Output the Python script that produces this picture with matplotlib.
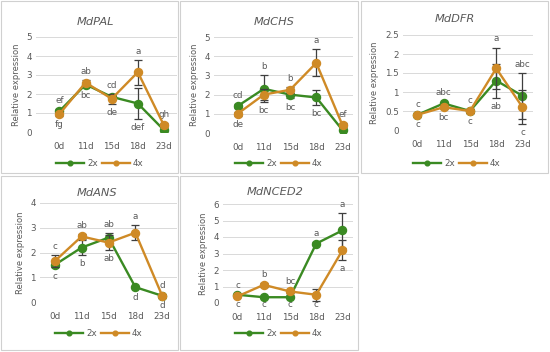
import matplotlib
matplotlib.use("Agg")
import matplotlib.pyplot as plt
from matplotlib.patches import Rectangle
from matplotlib.lines import Line2D
import numpy as np

days = ["0d", "11d", "15d", "18d", "23d"]

pal_2x = [1.1, 2.5, 1.85, 1.5, 0.1]
pal_2x_err = [0.1, 0.1, 0.1, 0.8, 0.05]
pal_4x = [0.95, 2.6, 1.75, 3.15, 0.35]
pal_4x_err = [0.1, 0.15, 0.25, 0.65, 0.1]
pal_top = ["ef", "ab", "cd", "a", "gh"]
pal_bot = ["fg", "bc", "de", "def", None]

chs_2x = [1.4, 2.3, 2.0, 1.85, 0.15]
chs_2x_err = [0.1, 0.7, 0.2, 0.4, 0.05]
chs_4x = [1.0, 2.0, 2.25, 3.65, 0.4]
chs_4x_err = [0.1, 0.3, 0.15, 0.7, 0.1]
chs_top = ["cd", "b", "b", "a", "ef"]
chs_bot = ["de", "bc", "bc", "bc", None]

dfr_2x = [0.4, 0.7, 0.5, 1.3, 0.9]
dfr_2x_err = [0.03, 0.05, 0.05, 0.45, 0.6]
dfr_4x = [0.4, 0.6, 0.5, 1.62, 0.6]
dfr_4x_err = [0.03, 0.05, 0.05, 0.55, 0.45]
dfr_top = ["c", "abc", "c", "a", "abc"]
dfr_bot = ["c", "bc", "c", "ab", "c"]

ans_2x = [1.5, 2.2, 2.6, 0.6, 0.25]
ans_2x_err = [0.1, 0.3, 0.2, 0.05, 0.05]
ans_4x = [1.65, 2.65, 2.4, 2.8, 0.25]
ans_4x_err = [0.25, 0.1, 0.3, 0.3, 0.05]
ans_top = ["c", "ab", "ab", "a", "d"]
ans_bot = ["c", "b", "ab", "d", "d"]

nced_2x = [0.5, 0.35, 0.35, 3.6, 4.4]
nced_2x_err = [0.05, 0.05, 0.05, 0.1, 1.05]
nced_4x = [0.4, 1.1, 0.7, 0.5, 3.2]
nced_4x_err = [0.05, 0.1, 0.1, 0.35, 0.6]
nced_top = ["c", "b", "bc", "a", "a"]
nced_bot = ["c", "c", "c", "c", "a"]

W, H = 550, 352
fig = plt.figure(figsize=(W / 100, H / 100), dpi=100)
fig.patch.set_facecolor("white")

GREEN = "#3a8a22"
ORANGE = "#cf8a26"
TXT = "#595959"
ERR = "#3f3f3f"

boxes = [(1, 1, 178, 173), (180, 1, 358, 173), (361, 1, 548, 173),
         (1, 176, 178, 350), (180, 176, 358, 350)]
for (x0, y0, x1, y1) in boxes:
    fig.add_artist(Rectangle((x0 / W, 1 - y1 / H), (x1 - x0) / W, (y1 - y0) / H,
                             transform=fig.transFigure, fill=False,
                             edgecolor="#d0d0d0", linewidth=0.8))

panels = [
    dict(title="MdPAL", d2=pal_2x, e2=pal_2x_err, d4=pal_4x, e4=pal_4x_err,
         top=pal_top, bot=pal_bot, ymax=5, step=1, floor=-1,
         ax=(36, 37, 177, 132), xl=(-0.9, 4.5), tx=95, ty=22, ly=163, lx=56),
    dict(title="MdCHS", d2=chs_2x, e2=chs_2x_err, d4=chs_4x, e4=chs_4x_err,
         top=chs_top, bot=chs_bot, ymax=5, step=1, floor=-1,
         ax=(214, 37, 353, 133), xl=(-0.9, 4.4), tx=274, ty=22, ly=163, lx=235),
    dict(title="MdDFR", d2=dfr_2x, e2=dfr_2x_err, d4=dfr_4x, e4=dfr_4x_err,
         top=dfr_top, bot=dfr_bot, ymax=2.5, step=0.5, floor=-1,
         ax=(403, 35, 533, 130), xl=(-0.55, 4.4), tx=455, ty=19, ly=163, lx=413),
    dict(title="MdANS", d2=ans_2x, e2=ans_2x_err, d4=ans_4x, e4=ans_4x_err,
         top=ans_top, bot=ans_bot, ymax=4, step=1, floor=-1,
         ax=(40, 203, 177, 302), xl=(-0.55, 4.55), tx=97, ty=193, ly=333, lx=55),
    dict(title="MdNCED2", d2=nced_2x, e2=nced_2x_err, d4=nced_4x, e4=nced_4x_err,
         top=nced_top, bot=nced_bot, ymax=6, step=1, floor=0.45,
         ax=(223, 204, 353, 303), xl=(-0.55, 4.4), tx=275, ty=192, ly=333, lx=235),
]

for p in panels:
    x0, yt, x1, yb = p["ax"]
    ax = fig.add_axes([x0 / W, 1 - yb / H, (x1 - x0) / W, (yb - yt) / H])
    ax.set_facecolor("none")
    xs = np.arange(len(days))
    for s in ax.spines.values():
        s.set_visible(False)
    ax.set_ylim(0, p["ymax"])
    ax.set_xlim(*p["xl"])
    ticks = np.arange(0, p["ymax"] + 1e-9, p["step"])
    ax.set_yticks(ticks)
    ax.set_yticklabels([("%g" % t) for t in ticks])
    ax.set_xticks(xs)
    ax.set_xticklabels(days)
    ax.tick_params(axis="both", length=0, labelsize=6.3, colors=TXT)
    ax.tick_params(axis="x", pad=7)
    ax.tick_params(axis="y", pad=3)
    ax.grid(axis="y", color="#d9d9d9", linewidth=0.7)
    ax.set_axisbelow(True)
    ax.set_ylabel("Relative expression", fontsize=6.0, color=TXT, labelpad=4)
    ax.errorbar(xs, p["d2"], yerr=p["e2"], color=GREEN, ecolor=ERR, elinewidth=0.9,
                capsize=2.8, capthick=0.9, marker="o", markersize=5.8, linewidth=1.7, zorder=3)
    ax.errorbar(xs, p["d4"], yerr=p["e4"], color=ORANGE, ecolor=ERR, elinewidth=0.9,
                capsize=2.8, capthick=0.9, marker="o", markersize=5.8, linewidth=1.7, zorder=4)
    for i in range(len(days)):
        hi = max(p["d2"][i] + p["e2"][i], p["d4"][i] + p["e4"][i])
        lo = min(p["d2"][i] - p["e2"][i], p["d4"][i] - p["e4"][i])
        lo = max(lo, p["floor"])
        if p["top"][i]:
            ax.annotate(p["top"][i], (xs[i], hi), xytext=(0, 3), textcoords="offset points",
                        ha="center", va="bottom", fontsize=6.3, color=TXT)
        if p["bot"][i]:
            ax.annotate(p["bot"][i], (xs[i], lo), xytext=(0, -3), textcoords="offset points",
                        ha="center", va="top", fontsize=6.3, color=TXT)
    fig.text(p["tx"] / W, 1 - p["ty"] / H, p["title"], ha="center", va="center",
             fontsize=8.2, style="italic", color=TXT)
    lx, ly = p["lx"], p["ly"]
    for k, (col, lab) in enumerate([(GREEN, "2x"), (ORANGE, "4x")]):
        sx = lx + k * 46
        fig.add_artist(Line2D([sx / W, (sx + 28) / W], [1 - ly / H, 1 - ly / H],
                              transform=fig.transFigure, color=col, linewidth=1.7))
        fig.add_artist(Line2D([(sx + 14) / W], [1 - ly / H], transform=fig.transFigure,
                              color=col, marker="o", markersize=3.4, linestyle="none"))
        fig.text((sx + 31) / W, 1 - ly / H, lab, ha="left", va="center",
                 fontsize=6.3, color=TXT)

fig.savefig("out.png", dpi=100, facecolor="white")
